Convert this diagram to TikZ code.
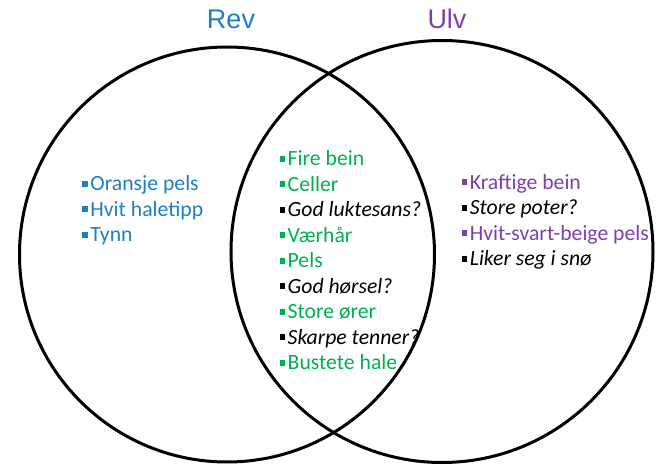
\documentclass[tikz,border=0pt]{standalone}
\usepackage{fontspec}
\setmainfont{Carlito}
\newfontfamily\titlefont{Liberation Sans}
\definecolor{revblue}{RGB}{28,127,199}
\definecolor{ulvpurple}{RGB}{126,63,174}
\definecolor{bothgreen}{RGB}{0,176,80}
\newcommand\vbul{\rule[4.4pt]{5.6pt}{5.6pt}\hspace{2.6pt}}
\begin{document}
\begin{tikzpicture}[x=1pt,y=-1pt,
  ring/.style={line width=3pt, draw=black},
  itemtxt/.style={anchor=base west, inner sep=0pt, font=\fontsize{21.7}{25}\selectfont},
  rev/.style={itemtxt, text=revblue},
  ulv/.style={itemtxt, text=ulvpurple},
  both/.style={itemtxt, text=bothgreen},
  ask/.style={itemtxt, text=black, font=\fontsize{21.7}{25}\selectfont\itshape},
  heading/.style={anchor=base, inner sep=0pt, font=\titlefont\fontsize{27}{30}\selectfont}]
\useasboundingbox (0,0) rectangle (662,465);
\draw[ring] (227,254.5) circle (207.5);
\draw[ring] (442,251.5) circle (211);
\node[heading, text=revblue] (trev) at (231,29) {Rev};
\node[heading, text=ulvpurple] (tulv) at (447,29) {Ulv};
% left
\node[rev] (l1) at (82,191) {\vbul Oransje pels};
\node[rev] (l2) at (82,216.5) {\vbul Hvit haletipp};
\node[rev] (l3) at (82,242) {\vbul Tynn};
% centre
\node[both] (c1) at (279.3,166) {\vbul Fire bein};
\node[both] (c2) at (279.3,191.5) {\vbul Celler};
\node[ask] (c3) at (279.3,217) {\upshape\vbul\itshape God luktesans?};
\node[both] (c4) at (279.3,242.5) {\vbul Værhår};
\node[both] (c5) at (279.3,268) {\vbul Pels};
\node[ask] (c6) at (279.3,293.5) {\upshape\vbul\itshape God hørsel?};
\node[both] (c7) at (279.3,319) {\vbul Store ører};
\node[ask] (c8) at (279.3,344.5) {\upshape\vbul\itshape Skarpe tenner?};
\node[both] (c9) at (279.3,370) {\vbul Bustete hale};
% right
\node[ulv] (r1) at (461.5,189.5) {\vbul Kraftige bein};
\node[ask] (r2) at (461.5,215) {\upshape\vbul\itshape Store poter?};
\node[ulv] (r3) at (461.5,240.5) {\vbul Hvit-svart-beige pels};
\node[ask] (r4) at (461.5,266) {\upshape\vbul\itshape Liker seg i snø};
\end{tikzpicture}
\end{document}
